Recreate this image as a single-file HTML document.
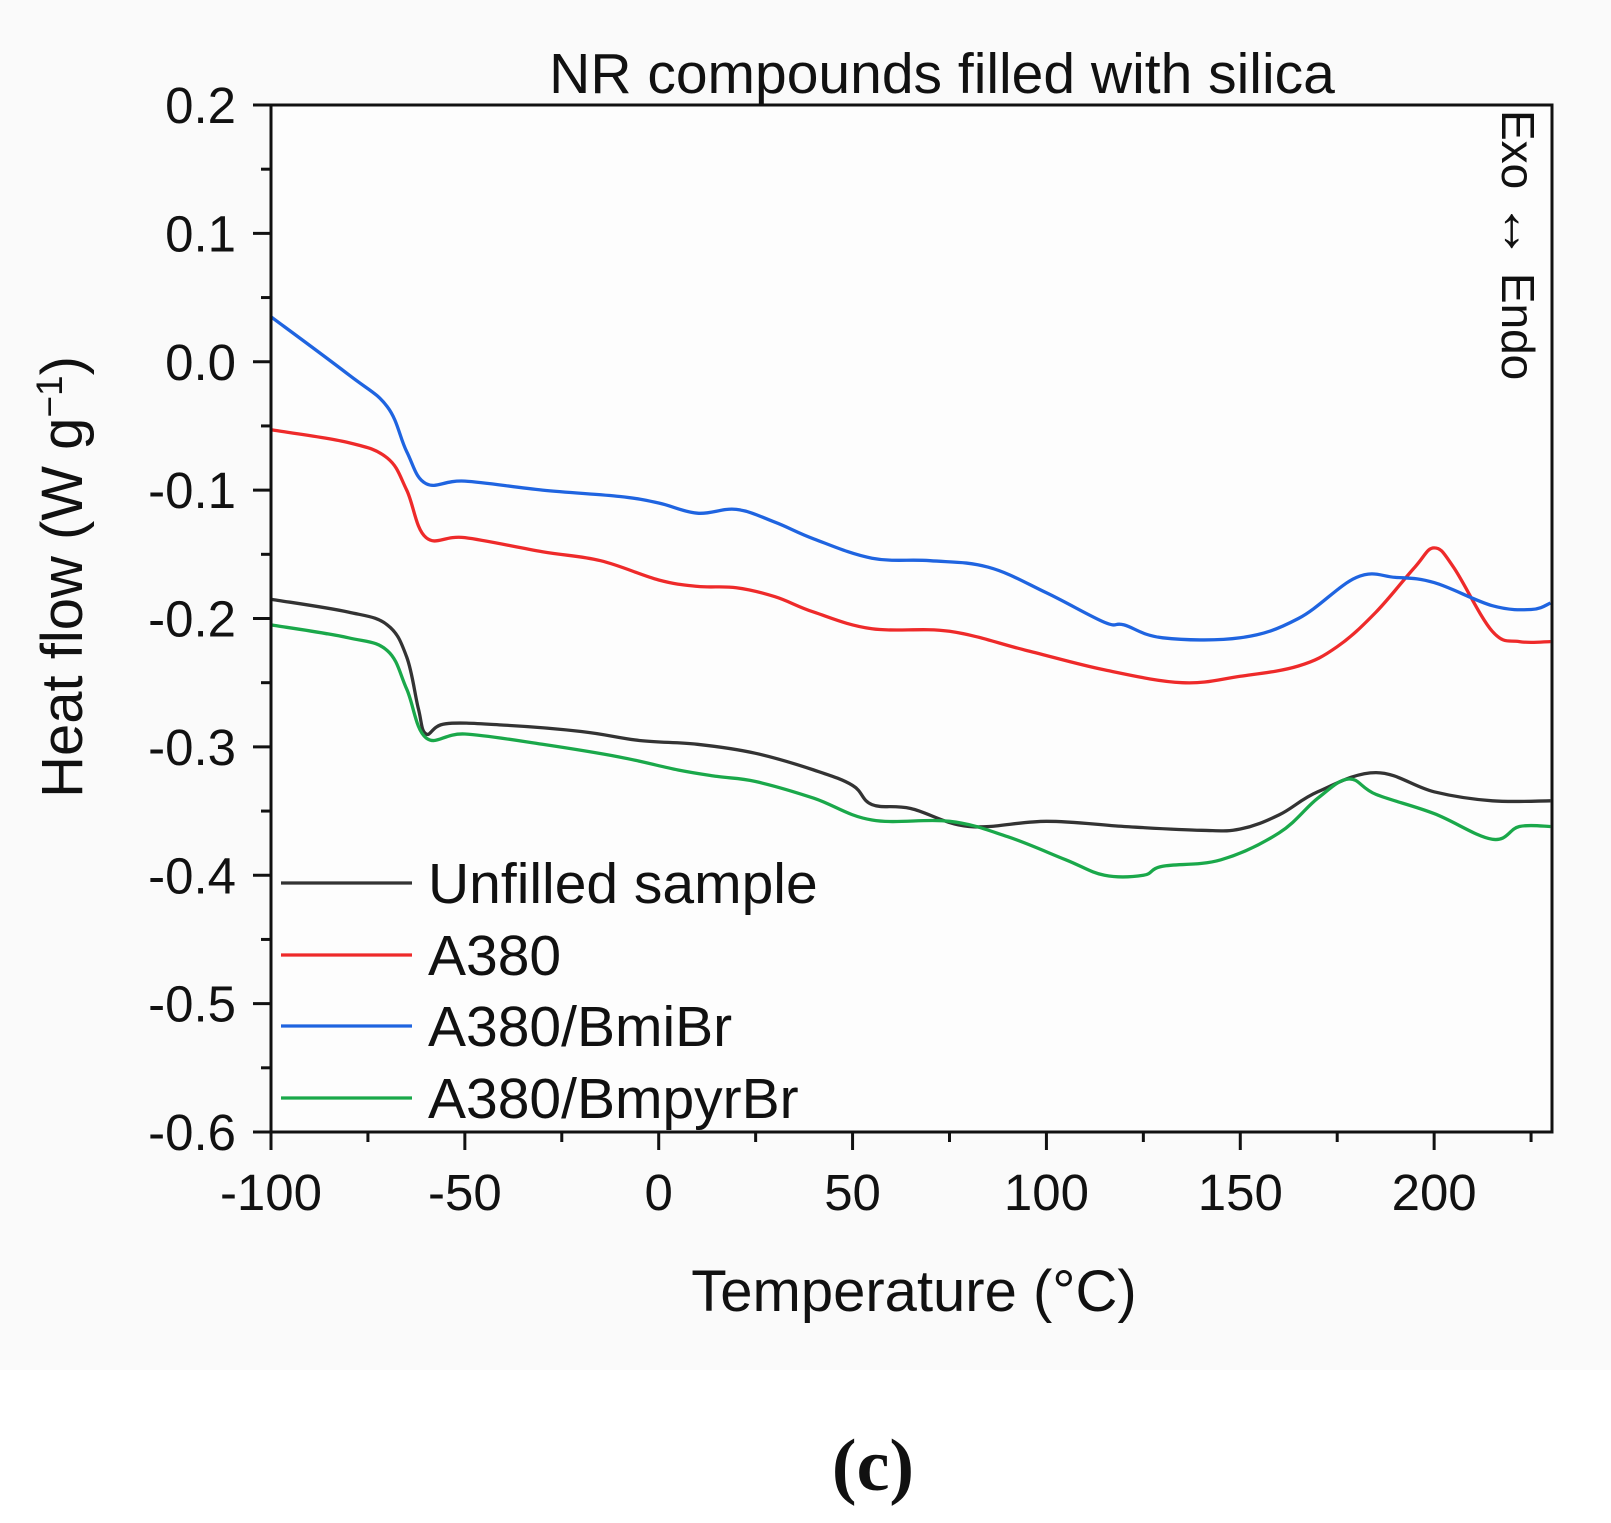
<!DOCTYPE html>
<html><head><meta charset="utf-8"><style>
html,body{margin:0;padding:0;background:#fff;}
svg text{font-family:"Liberation Sans",Arial,sans-serif;fill:#111;}
</style></head><body>
<svg width="1611" height="1518" viewBox="0 0 1611 1518" xmlns="http://www.w3.org/2000/svg">
<rect x="0" y="0" width="1611" height="1370" fill="#fafafa"/>
<rect x="271" y="105" width="1281" height="1027" fill="#fdfdfd"/>
<g id="series"></g>
<g id="axes"></g>
<text x="942" y="93" font-size="57" text-anchor="middle">NR compounds filled with silica</text>
<text x="914" y="1311" font-size="58" text-anchor="middle">Temperature (°C)</text>
<text transform="translate(82,577) rotate(-90)" font-size="58" text-anchor="middle">Heat flow (W g<tspan dy="-20" font-size="37">−1</tspan><tspan dy="20">)</tspan></text>
<text transform="translate(1502,110) rotate(90)" font-size="46" text-anchor="start">Exo <tspan font-size="58">↔</tspan> Endo</text>
<text x="873" y="1490" font-size="74" font-weight="bold" text-anchor="middle" style="font-family:'Liberation Serif',serif">(c)</text>
<g id="legend"></g>
</svg>
<script>
const xTicks=[-100,-50,0,50,100,150,200];
const xMinor=[-75,-25,25,75,125,175,225];
const yTicks=[0.2,0.1,0.0,-0.1,-0.2,-0.3,-0.4,-0.5,-0.6];
const yTickLabels=["0.2","0.1","0.0","-0.1","-0.2","-0.3","-0.4","-0.5","-0.6"];
const yMinor=[0.15,0.05,-0.05,-0.15,-0.25,-0.35,-0.45,-0.55];
const seriesNames=["Unfilled sample","A380","A380/BmiBr","A380/BmpyrBr"];
const seriesColors=["#333333","#ee2a2a","#1f64e0","#1aa84a"];
const grayX=[-100,-80,-70,-65,-62,-60,-55,-40,-20,-5,10,25,40,50,55,65,80,100,120,140,150,160,170,185,200,215,230];
const grayY=[-0.185,-0.195,-0.205,-0.23,-0.27,-0.29,-0.282,-0.283,-0.288,-0.295,-0.298,-0.305,-0.318,-0.33,-0.345,-0.348,-0.362,-0.358,-0.362,-0.365,-0.364,-0.353,-0.335,-0.32,-0.335,-0.342,-0.342];
const redX=[-100,-80,-70,-65,-60,-50,-30,-15,0,10,20,30,40,55,75,95,115,135,150,165,175,185,195,200,205,215,222,230];
const redY=[-0.053,-0.063,-0.075,-0.1,-0.137,-0.137,-0.148,-0.155,-0.17,-0.175,-0.176,-0.183,-0.195,-0.208,-0.21,-0.225,-0.24,-0.25,-0.245,-0.237,-0.222,-0.195,-0.16,-0.145,-0.16,-0.21,-0.218,-0.218];
const blueX=[-100,-80,-70,-65,-60,-50,-30,-10,0,10,20,30,40,55,70,85,100,115,120,130,150,165,180,190,200,215,225,230];
const blueY=[0.035,-0.01,-0.035,-0.07,-0.095,-0.093,-0.1,-0.105,-0.11,-0.118,-0.115,-0.125,-0.138,-0.153,-0.155,-0.16,-0.18,-0.203,-0.205,-0.215,-0.215,-0.2,-0.168,-0.168,-0.172,-0.19,-0.193,-0.188];
const greenX=[-100,-80,-70,-65,-60,-50,-30,-10,5,15,25,40,55,75,90,105,115,125,130,145,160,170,178,185,200,215,222,230];
const greenY=[-0.205,-0.215,-0.225,-0.255,-0.293,-0.29,-0.298,-0.308,-0.318,-0.323,-0.327,-0.34,-0.357,-0.358,-0.37,-0.388,-0.4,-0.4,-0.393,-0.388,-0.367,-0.34,-0.325,-0.337,-0.352,-0.372,-0.362,-0.362];

const NS="http://www.w3.org/2000/svg";
const X0=271,X1=1552,Y0=105,Y1=1132,xmin=-100,xmax=230.4,ymin=-0.6,ymax=0.2;
const sx=v=>X0+(v-xmin)/(xmax-xmin)*(X1-X0);
const sy=v=>Y1-(v-ymin)/(ymax-ymin)*(Y1-Y0);
function mk(tag,attrs,parent){const e=document.createElementNS(NS,tag);for(const k in attrs)e.setAttribute(k,attrs[k]);parent.appendChild(e);return e;}
function smooth(pts){
  let d='M'+pts[0][0].toFixed(1)+','+pts[0][1].toFixed(1);
  for(let i=0;i<pts.length-1;i++){
    const p0=pts[Math.max(0,i-1)],p1=pts[i],p2=pts[i+1],p3=pts[Math.min(pts.length-1,i+2)];
    const t=0.18;
    const c1=[p1[0]+(p2[0]-p0[0])*t,p1[1]+(p2[1]-p0[1])*t];
    const c2=[p2[0]-(p3[0]-p1[0])*t,p2[1]-(p3[1]-p1[1])*t];
    d+='C'+c1[0].toFixed(1)+','+c1[1].toFixed(1)+' '+c2[0].toFixed(1)+','+c2[1].toFixed(1)+' '+p2[0].toFixed(1)+','+p2[1].toFixed(1);
  }
  return d;
}
const S=document.getElementById('series'),A=document.getElementById('axes'),L=document.getElementById('legend');
const allX=[grayX,redX,blueX,greenX],allY=[grayY,redY,blueY,greenY];
const sNames=['series-unfilled','series-a380','series-a380-bmibr','series-a380-bmpyrbr'];
allX.forEach((xs,i)=>{
  const pts=xs.map((x,j)=>[sx(x),sy(allY[i][j])]);
  const p=mk('path',{d:smooth(pts),fill:'none',stroke:seriesColors[i],'stroke-width':3.3,'stroke-linejoin':'round'},S);
  
  
});
const frame=mk('rect',{x:X0,y:Y0,width:X1-X0,height:Y1-Y0,fill:'none',stroke:'#111','stroke-width':3},A);


xTicks.forEach(v=>{
  const t=mk('line',{x1:sx(v),x2:sx(v),y1:Y1,y2:Y1+18,stroke:'#111','stroke-width':3},A);
  
  
  const l=mk('text',{x:sx(v),y:1210,'font-size':51,'text-anchor':'middle'},A);l.textContent=v;
  
  
});
xMinor.forEach(v=>{
  const t=mk('line',{x1:sx(v),x2:sx(v),y1:Y1,y2:Y1+10,stroke:'#111','stroke-width':3},A);
  
  
});
yTicks.forEach((v,i)=>{
  const t=mk('line',{x1:X0-18,x2:X0,y1:sy(v),y2:sy(v),stroke:'#111','stroke-width':3},A);
  
  
  const l=mk('text',{x:236,y:sy(v)+18,'font-size':51,'text-anchor':'end'},A);l.textContent=yTickLabels[i];
  
  
});
yMinor.forEach(v=>{
  const t=mk('line',{x1:X0-10,x2:X0,y1:sy(v),y2:sy(v),stroke:'#111','stroke-width':3},A);
  
  
});
const legY=[903,975,1046,1118];
seriesNames.forEach((n,i)=>{
  const ln=mk('line',{x1:281,x2:412,y1:legY[i]-20,y2:legY[i]-20,stroke:seriesColors[i],'stroke-width':3.3},L);
  
  
  const t=mk('text',{x:428,y:legY[i],'font-size':57},L);t.textContent=n;
  
  
});
</script>
</body></html>
